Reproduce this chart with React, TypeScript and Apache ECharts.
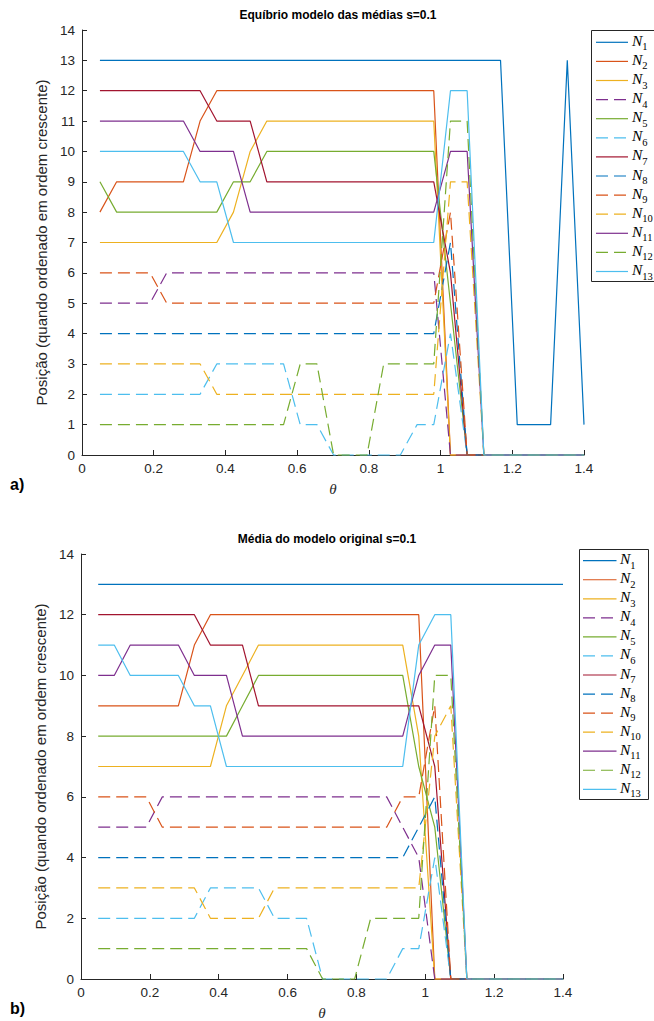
import React, { useEffect, useRef } from "react";
import * as echarts from "echarts";

// theta sample points (x values)
const thetas = [0.05, 0.0966, 0.1431, 0.1897, 0.2362, 0.2828, 0.3293, 0.3759, 0.4224, 0.469, 0.5155, 0.5621, 0.6086, 0.6552, 0.7017, 0.7483, 0.7948, 0.8414, 0.8879, 0.9345, 0.981, 1.0276, 1.0741, 1.1207, 1.1672, 1.2138, 1.2603, 1.3069, 1.3534, 1.4];

const xTicks = [0, 0.2, 0.4, 0.6, 0.8, 1, 1.2, 1.4];

const seriesNames = ["N1", "N2", "N3", "N4", "N5", "N6", "N7", "N8", "N9", "N10", "N11", "N12", "N13"];

// a) Equíbrio modelo das médias
const eqN1 = [13, 13, 13, 13, 13, 13, 13, 13, 13, 13, 13, 13, 13, 13, 13, 13, 13, 13, 13, 13, 13, 13, 13, 13, 13, 1, 1, 1, 13, 1];
const eqN2 = [8, 9, 9, 9, 9, 9, 11, 12, 12, 12, 12, 12, 12, 12, 12, 12, 12, 12, 12, 12, 12, 0, 0, 0, 0, 0, 0, 0, 0, 0];
const eqN3 = [7, 7, 7, 7, 7, 7, 7, 7, 8, 10, 11, 11, 11, 11, 11, 11, 11, 11, 11, 11, 11, 0, 0, 0, 0, 0, 0, 0, 0, 0];
const eqN4 = [5, 5, 5, 5, 6, 6, 6, 6, 6, 6, 6, 6, 6, 6, 6, 6, 6, 6, 6, 6, 6, 0, 0, 0, 0, 0, 0, 0, 0, 0];
const eqN5 = [9, 8, 8, 8, 8, 8, 8, 8, 9, 9, 10, 10, 10, 10, 10, 10, 10, 10, 10, 10, 10, 5, 0, 0, 0, 0, 0, 0, 0, 0];
const eqN6 = [2, 2, 2, 2, 2, 2, 2, 3, 3, 3, 3, 3, 1, 1, 0, 0, 0, 0, 0, 1, 1, 4, 0, 0, 0, 0, 0, 0, 0, 0];
const eqN7 = [12, 12, 12, 12, 12, 12, 12, 11, 11, 11, 9, 9, 9, 9, 9, 9, 9, 9, 9, 9, 9, 6, 0, 0, 0, 0, 0, 0, 0, 0];
const eqN8 = [4, 4, 4, 4, 4, 4, 4, 4, 4, 4, 4, 4, 4, 4, 4, 4, 4, 4, 4, 4, 4, 7, 0, 0, 0, 0, 0, 0, 0, 0];
const eqN9 = [6, 6, 6, 6, 5, 5, 5, 5, 5, 5, 5, 5, 5, 5, 5, 5, 5, 5, 5, 5, 5, 8, 0, 0, 0, 0, 0, 0, 0, 0];
const eqN10 = [3, 3, 3, 3, 3, 3, 3, 2, 2, 2, 2, 2, 2, 2, 2, 2, 2, 2, 2, 2, 2, 9, 9, 0, 0, 0, 0, 0, 0, 0];
const eqN11 = [11, 11, 11, 11, 11, 11, 10, 10, 10, 8, 8, 8, 8, 8, 8, 8, 8, 8, 8, 8, 8, 10, 10, 0, 0, 0, 0, 0, 0, 0];
const eqN12 = [1, 1, 1, 1, 1, 1, 1, 1, 1, 1, 1, 1, 3, 3, 0, 0, 0, 3, 3, 3, 3, 11, 11, 0, 0, 0, 0, 0, 0, 0];
const eqN13 = [10, 10, 10, 10, 10, 10, 9, 9, 7, 7, 7, 7, 7, 7, 7, 7, 7, 7, 7, 7, 7, 12, 12, 0, 0, 0, 0, 0, 0, 0];

// b) Média do modelo original
const orN1 = [13, 13, 13, 13, 13, 13, 13, 13, 13, 13, 13, 13, 13, 13, 13, 13, 13, 13, 13, 13, 13, 13, 13, 13, 13, 13, 13, 13, 13, 13];
const orN2 = [9, 9, 9, 9, 9, 9, 11, 12, 12, 12, 12, 12, 12, 12, 12, 12, 12, 12, 12, 12, 12, 0, 0, 0, 0, 0, 0, 0, 0, 0];
const orN3 = [7, 7, 7, 7, 7, 7, 7, 7, 9, 10, 11, 11, 11, 11, 11, 11, 11, 11, 11, 11, 8, 0, 0, 0, 0, 0, 0, 0, 0, 0];
const orN4 = [5, 5, 5, 5, 6, 6, 6, 6, 6, 6, 6, 6, 6, 6, 6, 6, 6, 6, 6, 5, 4, 0, 0, 0, 0, 0, 0, 0, 0, 0];
const orN5 = [8, 8, 8, 8, 8, 8, 8, 8, 8, 9, 10, 10, 10, 10, 10, 10, 10, 10, 10, 10, 7, 5, 0, 0, 0, 0, 0, 0, 0, 0];
const orN6 = [2, 2, 2, 2, 2, 2, 2, 3, 3, 3, 3, 2, 2, 2, 0, 0, 0, 0, 0, 1, 1, 4, 0, 0, 0, 0, 0, 0, 0, 0];
const orN7 = [12, 12, 12, 12, 12, 12, 12, 11, 11, 11, 9, 9, 9, 9, 9, 9, 9, 9, 9, 9, 9, 7, 0, 0, 0, 0, 0, 0, 0, 0];
const orN8 = [4, 4, 4, 4, 4, 4, 4, 4, 4, 4, 4, 4, 4, 4, 4, 4, 4, 4, 4, 4, 5, 6, 0, 0, 0, 0, 0, 0, 0, 0];
const orN9 = [6, 6, 6, 6, 5, 5, 5, 5, 5, 5, 5, 5, 5, 5, 5, 5, 5, 5, 5, 6, 6, 9, 0, 0, 0, 0, 0, 0, 0, 0];
const orN10 = [3, 3, 3, 3, 3, 3, 3, 2, 2, 2, 2, 3, 3, 3, 3, 3, 3, 3, 3, 3, 3, 8, 9, 0, 0, 0, 0, 0, 0, 0];
const orN11 = [10, 10, 11, 11, 11, 11, 10, 10, 10, 8, 8, 8, 8, 8, 8, 8, 8, 8, 8, 8, 10, 11, 11, 0, 0, 0, 0, 0, 0, 0];
const orN12 = [1, 1, 1, 1, 1, 1, 1, 1, 1, 1, 1, 1, 1, 1, 0, 0, 0, 2, 2, 2, 2, 10, 10, 0, 0, 0, 0, 0, 0, 0];
const orN13 = [11, 11, 10, 10, 10, 10, 9, 9, 7, 7, 7, 7, 7, 7, 7, 7, 7, 7, 7, 7, 11, 12, 12, 0, 0, 0, 0, 0, 0, 0];

const eqSeries = [eqN1, eqN2, eqN3, eqN4, eqN5, eqN6, eqN7, eqN8, eqN9, eqN10, eqN11, eqN12, eqN13];
const orSeries = [orN1, orN2, orN3, orN4, orN5, orN6, orN7, orN8, orN9, orN10, orN11, orN12, orN13];

const titleA = "Equíbrio modelo das médias s=0.1";
const titleB = "Média do modelo original s=0.1";
const yName = "Posição (quando ordenado em ordem crescente)";
const xName = "θ";

// styles
const palette = ["#0072BD", "#D95319", "#EDB120", "#7E2F8E", "#77AC30", "#4DBEEE", "#A2142F"];
const dashedFlags = [false, false, false, true, false, true, false, true, true, true, false, true, false];
const DASH = [12, 6];
const AX = "#262626";
const SANS = "'Liberation Sans', Arial, Helvetica, sans-serif";
const SERIF = "'Liberation Serif', 'Times New Roman', serif";

function xAxisFor(gridIndex: number) {
  return {
    type: "value",
    gridIndex,
    min: 0,
    max: 1.4,
    interval: 0.2,
    axisLine: { show: true, lineStyle: { color: AX, width: 1 } },
    axisTick: { show: true, inside: true, length: 5, lineStyle: { color: AX } },
    axisLabel: {
      color: AX,
      fontSize: 13.5,
      fontFamily: SANS,
      margin: 6,
      formatter: (v: number) => {
        const t = xTicks.find((k) => Math.abs(k - v) < 1e-6);
        return t === undefined ? "" : String(t);
      },
    },
    splitLine: { show: false },
    name: xName,
    nameLocation: "middle",
    nameGap: 26,
    nameTextStyle: { fontFamily: SERIF, fontStyle: "italic", fontSize: 15, color: AX },
  };
}

function yAxisFor(gridIndex: number, interval: number) {
  return {
    type: "value",
    gridIndex,
    min: 0,
    max: 14,
    interval,
    axisLine: { show: true, lineStyle: { color: AX, width: 1 } },
    axisTick: { show: true, inside: true, length: 5, lineStyle: { color: AX } },
    axisLabel: { color: AX, fontSize: 13.5, fontFamily: SANS, margin: 7 },
    splitLine: { show: false },
    name: yName,
    nameLocation: "middle",
    nameGap: 30,
    nameTextStyle: { fontFamily: SANS, fontSize: 15, color: AX },
  };
}

function buildSeries(sets: number[][], axisIndex: number) {
  return sets.map((vals, k) => ({
    type: "line",
    name: seriesNames[k],
    xAxisIndex: axisIndex,
    yAxisIndex: axisIndex,
    data: thetas.map((t, i) => [t, vals[i]]),
    symbol: "none",
    showSymbol: false,
    clip: false,
    lineStyle: { color: palette[k % 7], width: 1.2, type: dashedFlags[k] ? DASH : "solid" },
    itemStyle: { color: palette[k % 7] },
    z: 2 + k * 0.01,
  }));
}

function legendGraphic(boxX: number, boxY: number, boxW: number, boxH: number, firstY: number, step: number, lineX1: number, lineX2: number, textX: number) {
  const children: any[] = [
    {
      type: "rect",
      shape: { x: boxX, y: boxY, width: boxW, height: boxH },
      style: { fill: "#ffffff", stroke: AX, lineWidth: 1 },
      z: 100,
    },
  ];
  seriesNames.forEach((nm, k) => {
    const y = firstY + k * step;
    children.push({
      type: "line",
      shape: { x1: lineX1, y1: y, x2: lineX2, y2: y },
      style: { stroke: palette[k % 7], lineWidth: 1.2, lineDash: dashedFlags[k] ? DASH : null },
      z: 101,
    });
    children.push({
      type: "text",
      x: textX,
      y: y,
      z: 101,
      style: {
        text: `{n|N}{s|${nm.slice(1)}}`,
        verticalAlign: "middle",
        fill: "#000",
        rich: {
          n: { fontFamily: SERIF, fontStyle: "italic", fontSize: 15.5, fill: "#000", padding: [0, 0, 4, 0], verticalAlign: "bottom" },
          s: { fontFamily: SERIF, fontSize: 10.5, fill: "#000", verticalAlign: "bottom" },
        },
      },
    });
  });
  return children;
}

export default function App() {
  const ref = useRef<HTMLDivElement>(null);
  useEffect(() => {
    document.body.style.margin = "0";
    const chart = echarts.init(ref.current as HTMLDivElement, null, { renderer: "svg" });
    const option: any = {
      animation: false,
      backgroundColor: "#ffffff",
      title: [
        { text: titleA, left: 333, top: 4, textAlign: "center", textStyle: { fontFamily: SANS, fontWeight: "bold", fontSize: 12, color: "#000" } },
        { text: titleB, left: 322, top: 528, textAlign: "center", textStyle: { fontFamily: SANS, fontWeight: "bold", fontSize: 12, color: "#000" } },
      ],
      grid: [
        { left: 82, top: 30, width: 502, height: 425, containLabel: false },
        { left: 81, top: 554, width: 482, height: 425, containLabel: false },
      ],
      xAxis: [xAxisFor(0), xAxisFor(1)],
      yAxis: [yAxisFor(0, 1), yAxisFor(1, 2)],
      series: [...buildSeries(eqSeries, 0), ...buildSeries(orSeries, 1)],
      graphic: [
        ...legendGraphic(591.5, 30.5, 80, 251, 42.3, 19.1, 596, 628, 632),
        ...legendGraphic(579.5, 549.5, 69, 250, 560.7, 19.05, 583, 616.5, 620),
        { type: "text", x: 10, y: 476, style: { text: "a)", fontFamily: SANS, fontWeight: "bold", fontSize: 16, fill: "#000" } },
        { type: "text", x: 10, y: 1000, style: { text: "b)", fontFamily: SANS, fontWeight: "bold", fontSize: 16, fill: "#000" } },
      ],
    };
    chart.setOption(option);
    return () => chart.dispose();
  }, []);
  return <div ref={ref} style={{ width: 654, height: 1021 }} />;
}
